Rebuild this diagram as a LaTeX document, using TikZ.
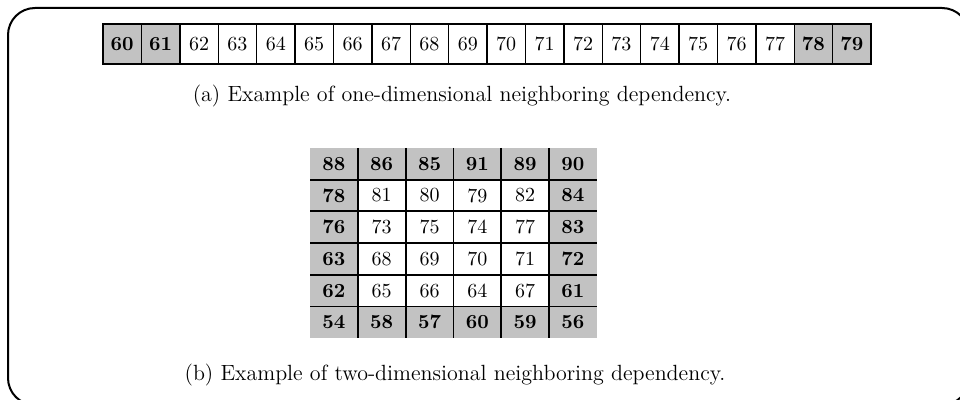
\documentclass[tikz,border=0pt]{standalone}
\usepackage{tikz}
\usetikzlibrary{positioning}
\definecolor{depshade}{HTML}{C2C2C2}

\begin{document}
\begin{tikzpicture}[
  x=0.5pt, y=-0.5pt,
  cell/.style={draw, line width=0.7pt, minimum width=19.2pt, minimum height=20pt, inner sep=0pt, outer sep=0pt, font=\normalsize},
  hot/.style={cell, fill=depshade, font=\normalsize\bfseries},
  gcell/.style={minimum width=23.9pt, minimum height=15.85pt, inner sep=0pt, outer sep=0pt, font=\normalsize},
  gedge/.style={gcell, fill=depshade, font=\normalsize\bfseries},
  grule/.style={line width=0.9pt},
  captxt/.style={font=\fontsize{11}{13}\selectfont}
]
\useasboundingbox (0,0) rectangle (960,400);
\clip (0,0) rectangle (960,400);
\draw[line width=1pt, rounded corners=13.5pt] (8,8) rectangle (969,405);

% one-dimensional row
\node[hot] (r1) at (122.2,44) {60};
\foreach \v/\s [count=\i from 2] in {61/hot,62/cell,63/cell,64/cell,65/cell,66/cell,67/cell,68/cell,69/cell,70/cell,71/cell,72/cell,73/cell,74/cell,75/cell,76/cell,77/cell,78/hot,79/hot}{
  \pgfmathtruncatemacro\p{\i-1}
  \node[\s, right=0pt of r\p] (r\i) {\v};
}
\node[captxt] (capa) at (462,96) {(a) Example of one-dimensional neighboring dependency.};

% two-dimensional grid
\foreach \row [count=\r] in {{88,86,85,91,89,90},{78,81,80,79,82,84},{76,73,75,74,77,83},{63,68,69,70,71,72},{62,65,66,64,67,61},{54,58,57,60,59,56}}{
  \foreach \v [count=\c] in \row {
    \pgfmathtruncatemacro\edge{(\r==1)||(\r==6)||(\c==1)||(\c==6)}
    \ifnum\edge=1 \def\gs{gedge}\else\def\gs{gcell}\fi
    \node[\gs] (g\r-\c) at ({310+47.8*(\c-0.5)},{148+31.7*(\r-0.5)}) {\v};
  }
}
\foreach \k in {2,...,6}{
  \draw[grule] (g1-\k.north west) -- (g6-\k.south west);
  \draw[grule] (g\k-1.north west) -- (g\k-6.north east);
}
\node[captxt] (capb) at (455,375) {(b) Example of two-dimensional neighboring dependency.};
\end{tikzpicture}
\end{document}
